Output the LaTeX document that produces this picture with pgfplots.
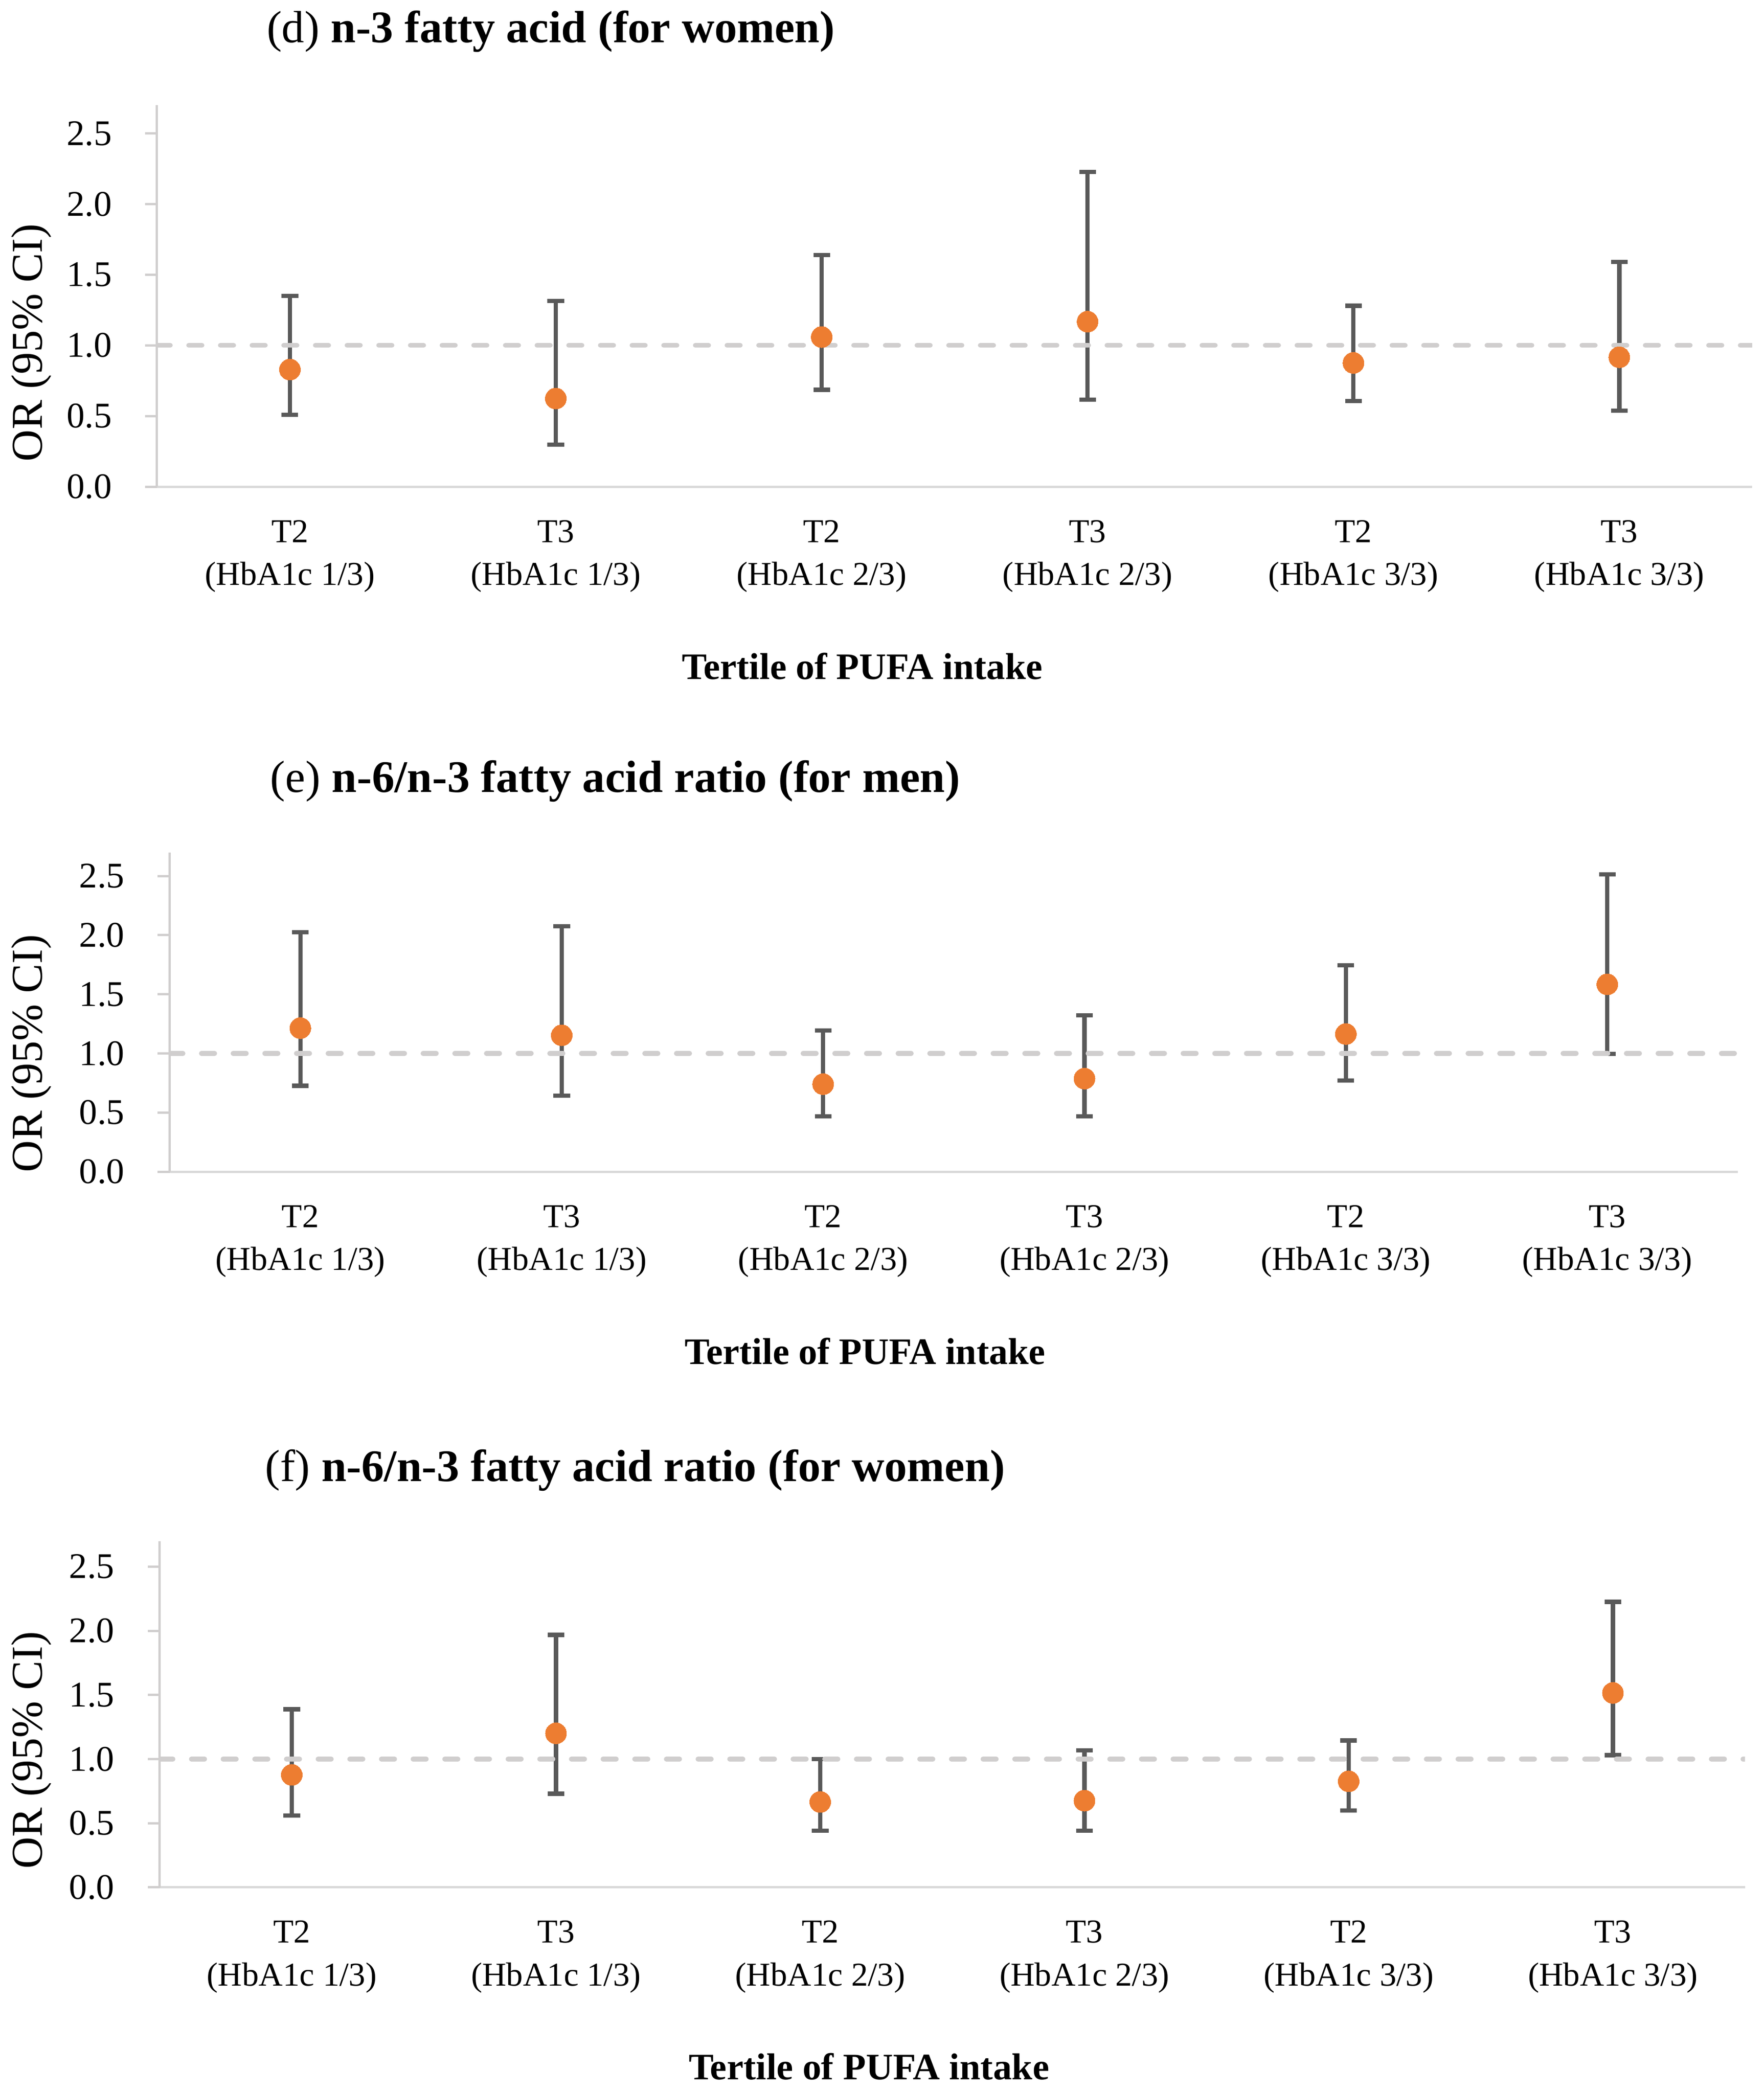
\documentclass[border=0pt]{standalone}
\usepackage{fontspec}
\setmainfont{Liberation Serif}
\usepackage{pgfplots}
\usepackage{pgfplotstable}
\pgfplotsset{compat=1.18}

\definecolor{orpoint}{HTML}{ED7D31}
\definecolor{bargray}{HTML}{595959}
\definecolor{refgray}{HTML}{D0CECE}
\definecolor{yaxgray}{HTML}{D0CECE}
\definecolor{xaxgray}{HTML}{D9D9D9}

\newcommand\titlefont{\fontsize{16.9}{19}\selectfont}
\newcommand\xlabfont{\fontsize{14}{16}\selectfont\bfseries}
\newcommand\ylabfont{\fontsize{16.5}{19}\selectfont}

% OR with 95% CI: x = category, y = OR, hi/lo = CI limits
\pgfplotstableread{
x y hi lo
0 0.829 1.351 0.509
1 0.624 1.314 0.298
2 1.059 1.640 0.686
3 1.168 2.227 0.615
4 0.876 1.280 0.606
5 0.916 1.590 0.537
}\tabd
\pgfplotstableread{
x y hi lo
0 1.214 2.026 0.726
1 1.153 2.076 0.643
2 0.740 1.193 0.467
3 0.787 1.322 0.467
4 1.164 1.746 0.772
5 1.584 2.514 0.995
}\tabe
\pgfplotstableread{
x y hi lo
0 0.877 1.389 0.559
1 1.201 1.968 0.730
2 0.666 1.001 0.442
3 0.676 1.068 0.442
4 0.827 1.145 0.599
5 1.516 2.226 1.031
}\tabf

\pgfplotsset{
  orpanel/.style={
    scale only axis, anchor=south west,
    xmin=-0.5, xmax=5.5, ymin=0, ymax=2.7,
    axis lines=left, separate axis lines,
    axis line style={-},
    x axis line style={draw=xaxgray, line width=0.86pt},
    y axis line style={draw=yaxgray, line width=0.86pt},
    xtick={0,...,5}, ytick={0,0.5,...,2.5},
    tick align=outside, major tick length=4.5pt,
    xtick style={draw=none},
    ytick style={draw=yaxgray, line width=0.86pt},
    xticklabels={{T2\\(HbA1c 1/3)},{T3\\(HbA1c 1/3)},{T2\\(HbA1c 2/3)},
                 {T3\\(HbA1c 2/3)},{T2\\(HbA1c 3/3)},{T3\\(HbA1c 3/3)}},
    xticklabel style={align=center, font=\fontsize{12.5}{16}\selectfont, yshift=-4.5pt},
    yticklabel style={font=\fontsize{13.5}{15}\selectfont, xshift=-8.9pt},
    /pgf/number format/assume math mode=true,
    yticklabel={\pgfmathprintnumber[fixed, fixed zerofill, precision=1]{\tick}},
  },
  cibar/.style={only marks, mark=none, color=bargray, forget plot,
    error bars/.cd, y dir=both, y explicit,
    error bar style={draw=bargray, line width=1.6pt},
    error mark options={rotate=90, mark size=3.1pt, draw=bargray, line width=1.6pt}},
  refline/.style={refgray, line width=1.77pt, dash pattern=on 5pt off 6.85pt,
    line cap=round, forget plot},
  ormark/.style={only marks, color=orpoint, mark=*, mark size=3.95pt,
    mark options={solid, fill=orpoint, draw=orpoint, line width=0pt}},
}

\begin{document}
\begin{tikzpicture}
\path[use as bounding box] (0,0) rectangle (660pt,-783.7pt);

\begin{axis}[orpanel, at={(58.75pt,-182.15pt)}, width=597pt, height=142.8pt]
  \addplot[cibar] table[x=x, y=y, y error plus expr=\thisrow{hi}-\thisrow{y},
    y error minus expr=\thisrow{y}-\thisrow{lo}] {\tabd};
  \addplot[refline] coordinates {(-0.5,1) (5.5,1)};
  \addplot[ormark] table[x=x, y=y] {\tabd};
\end{axis}

\begin{axis}[orpanel, at={(63.5pt,-438.5pt)}, width=586.9pt, height=119.5pt]
  \addplot[cibar] table[x=x, y=y, y error plus expr=\thisrow{hi}-\thisrow{y},
    y error minus expr=\thisrow{y}-\thisrow{lo}] {\tabe};
  \addplot[refline] coordinates {(-0.5,1) (5.5,1)};
  \addplot[ormark] table[x=x, y=y] {\tabe};
\end{axis}

\begin{axis}[orpanel, at={(59.75pt,-706.35pt)}, width=593.3pt, height=129.6pt]
  \addplot[cibar] table[x=x, y=y, y error plus expr=\thisrow{hi}-\thisrow{y},
    y error minus expr=\thisrow{y}-\thisrow{lo}] {\tabf};
  \addplot[refline] coordinates {(-0.5,1) (5.5,1)};
  \addplot[ormark] table[x=x, y=y] {\tabf};
\end{axis}

% titles
\node[anchor=base west, inner sep=0, font=\titlefont] at (99.65pt,-15.95pt)
  {(d) \textbf{n-3 fatty acid (for women)}};
\node[anchor=base west, inner sep=0, font=\titlefont] at (101pt,-296.4pt)
  {(e) \textbf{n-6/n-3 fatty acid ratio (for men)}};
\node[anchor=base west, inner sep=0, font=\titlefont] at (99pt,-554.4pt)
  {(f) \textbf{n-6/n-3 fatty acid ratio (for women)}};

% x labels
\node[anchor=base, inner sep=0, font=\xlabfont] at (322.7pt,-254.3pt) {Tertile of PUFA intake};
\node[anchor=base, inner sep=0, font=\xlabfont] at (323.7pt,-510.5pt) {Tertile of PUFA intake};
\node[anchor=base, inner sep=0, font=\xlabfont] at (325.2pt,-778.3pt) {Tertile of PUFA intake};

% y labels
\node[anchor=base, rotate=90, inner sep=0, font=\ylabfont] at (15.75pt,-128.25pt) {OR (95\% CI)};
\node[anchor=base, rotate=90, inner sep=0, font=\ylabfont] at (15.75pt,-394.25pt) {OR (95\% CI)};
\node[anchor=base, rotate=90, inner sep=0, font=\ylabfont] at (15.75pt,-655pt) {OR (95\% CI)};
\end{tikzpicture}
\end{document}
